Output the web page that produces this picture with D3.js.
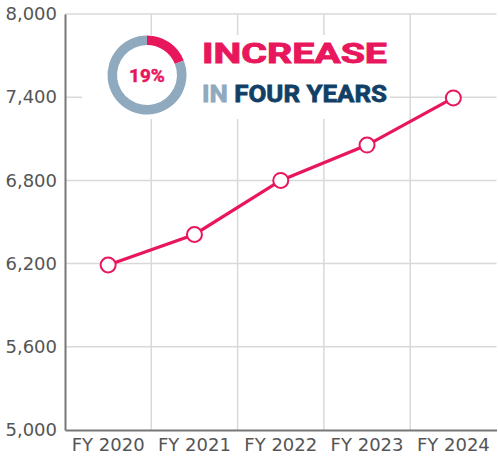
<!DOCTYPE html>
<html><head><meta charset="utf-8">
<script src="https://cdn.jsdelivr.net/npm/d3@7"></script>
<style>body{margin:0;background:#fff}svg{display:block}</style>
</head><body><div id="chart"></div>
<script>
const categories = ["FY 2020","FY 2021","FY 2022","FY 2023","FY 2024"];
const values = [6190, 6410, 6800, 7055, 7395];
const yTicks = [5000,5600,6200,6800,7400,8000];
const donutPct = 19;
const title1 = "INCREASE";
const title2a = "IN";
const title2b = "FOUR YEARS";

const W=498,H=458;
const m={left:65,right:1.5,top:14,bottom:28};
const red="#E8175D", blueGray="#8FA9BF", navy="#123F66";
const svg=d3.select("#chart").append("svg").attr("width",W).attr("height",H);
const x=d3.scaleBand().domain(categories).range([m.left,W-m.right]);
const y=d3.scaleLinear().domain([5000,8000]).range([H-m.bottom,m.top]);
const font="DejaVu Sans";

svg.append("g").selectAll("line").data(yTicks.slice(1)).join("line")
  .attr("x1",m.left).attr("x2",W-m.right).attr("y1",d=>y(d)).attr("y2",d=>y(d))
  .attr("stroke","#d9d9d9").attr("stroke-width",1.5);
svg.append("g").selectAll("line").data(categories.slice(1)).join("line")
  .attr("x1",d=>x(d)).attr("x2",d=>x(d)).attr("y1",y(8000)).attr("y2",y(5000))
  .attr("stroke","#d9d9d9").attr("stroke-width",1.5);

svg.append("rect").attr("x",82).attr("y",35).attr("width",308).attr("height",84).attr("fill","#fff");

const yAxis=d3.axisLeft(y).tickValues(yTicks).tickSize(0).tickPadding(8).tickFormat(d3.format(","));
const gy=svg.append("g").attr("transform",`translate(${m.left},0)`).call(yAxis);
gy.select(".domain").attr("stroke","#777").attr("stroke-width",2);
gy.selectAll("text").attr("font-family",font).attr("font-size",18).attr("fill","#555");
const xAxis=d3.axisBottom(x).tickSize(0).tickPadding(8);
const gx=svg.append("g").attr("transform",`translate(0,${H-m.bottom})`).call(xAxis);
gx.select(".domain").attr("stroke","#777").attr("stroke-width",2);
gx.selectAll("text").attr("font-family",font).attr("font-size",18).attr("fill","#555");

const line=d3.line().x((d,i)=>x(categories[i])+x.bandwidth()/2).y(d=>y(d));
svg.append("path").datum(values).attr("d",line).attr("fill","none").attr("stroke",red).attr("stroke-width",3.2);
svg.append("g").selectAll("circle").data(values).join("circle")
  .attr("cx",(d,i)=>x(categories[i])+x.bandwidth()/2).attr("cy",d=>y(d)).attr("r",7.5)
  .attr("fill","#fff").attr("stroke",red).attr("stroke-width",2);

const cx=147, cy=75;
const pie=d3.pie().sort(null)([donutPct,100-donutPct]);
const arc=d3.arc().innerRadius(30).outerRadius(39.5);
svg.append("g").attr("transform",`translate(${cx},${cy})`).selectAll("path").data(pie).join("path")
  .attr("d",arc).attr("fill",(d,i)=>i===0?red:blueGray);
svg.append("text").attr("x",cx).attr("y",cy+7).attr("text-anchor","middle")
  .attr("font-family","Roboto").attr("font-weight","bold").attr("font-size",19).attr("fill",red)
  .attr("stroke",red).attr("stroke-width",0.5).text(donutPct+"%");

svg.append("text").attr("x",202).attr("y",63).attr("font-family","Roboto").attr("font-weight","bold")
  .attr("font-size",27).attr("fill",red).attr("stroke",red).attr("stroke-width",0.9)
  .attr("textLength",185).attr("lengthAdjust","spacingAndGlyphs").text(title1);
const t2=svg.append("text").attr("x",202).attr("y",102).attr("font-family","Roboto").attr("font-weight","bold")
  .attr("font-size",24.5).attr("stroke-width",0.8).attr("textLength",185).attr("lengthAdjust","spacingAndGlyphs");
t2.append("tspan").attr("fill",blueGray).attr("stroke",blueGray).text(title2a+" ");
t2.append("tspan").attr("fill",navy).attr("stroke",navy).text(title2b);
</script></body></html>
